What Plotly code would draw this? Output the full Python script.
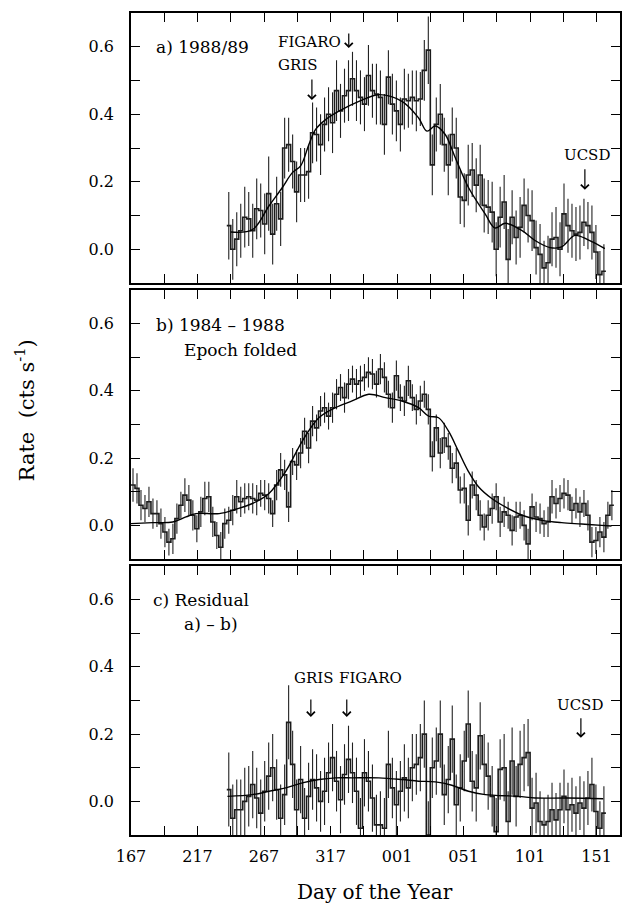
import plotly.graph_objects as go
from plotly.subplots import make_subplots

# ---------------- data ----------------
# bin start days (continuous day count; 367 = day 001 of next year)
day_a = list(range(239, 524, 3))
rate_a = [0.07, 0.00, 0.03, 0.055, 0.095, 0.09, 0.055, 0.12, 0.115, 0.075,
          0.165, 0.045, 0.135, 0.09, 0.30, 0.31, 0.26, 0.17, 0.22, 0.22,
          0.23, 0.345, 0.34, 0.31, 0.37, 0.40, 0.375, 0.47, 0.41, 0.455,
          0.47, 0.505, 0.47, 0.45, 0.43, 0.515, 0.47, 0.46, 0.45, 0.37,
          0.51, 0.43, 0.41, 0.37, 0.445, 0.44, 0.45, 0.44, 0.445, 0.53,
          0.59, 0.25, 0.37, 0.40, 0.31, 0.25, 0.34, 0.30, 0.155, 0.145,
          0.22, 0.235, 0.19, 0.22, 0.13, 0.125, 0.11, 0.00, 0.095, 0.14,
          -0.03, 0.095, 0.035, 0.065, 0.13, 0.10, 0.085, 0.005, -0.015, -0.055,
          -0.04, 0.03, 0.035, 0.00, 0.105, 0.07, 0.055, 0.045, 0.05, 0.08,
          0.07, 0.05, -0.008, -0.075, -0.065]
err_a = [0.10, 0.09, 0.08, 0.08, 0.09, 0.08, 0.08, 0.09, 0.08, 0.09,
         0.11, 0.09, 0.08, 0.08, 0.09, 0.08, 0.08, 0.09, 0.08, 0.08,
         0.08, 0.09, 0.08, 0.09, 0.08, 0.08, 0.09, 0.09, 0.08, 0.08,
         0.09, 0.08, 0.09, 0.08, 0.08, 0.09, 0.08, 0.09, 0.08, 0.09,
         0.08, 0.09, 0.09, 0.08, 0.09, 0.08, 0.08, 0.09, 0.08, 0.09,
         0.10, 0.09, 0.08, 0.09, 0.08, 0.09, 0.08, 0.09, 0.08, 0.08,
         0.09, 0.08, 0.08, 0.09, 0.08, 0.08, 0.09, 0.08, 0.09, 0.08,
         0.09, 0.08, 0.08, 0.09, 0.08, 0.08, 0.09, 0.08, 0.09, 0.08,
         0.08, 0.08, 0.09, 0.08, 0.09, 0.08, 0.08, 0.08, 0.08, 0.07,
         0.07, 0.08, 0.08, 0.07, 0.08]

day_b = list(range(167, 530, 3))
rate_b = [0.12, 0.11, 0.06, 0.05, 0.07, 0.035, 0.035, 0.005, -0.02, -0.05,
          -0.04, 0.02, 0.06, 0.09, 0.075, 0.03, -0.01, 0.04, 0.08, 0.085,
          0.01, -0.03, -0.065, 0.005, 0.015, 0.045, 0.085, 0.07, 0.08, 0.085,
          0.08, 0.075, 0.095, 0.09, 0.08, 0.035, 0.12, 0.165, 0.15, 0.055,
          0.19, 0.18, 0.215, 0.28, 0.23, 0.31, 0.29, 0.34, 0.35, 0.325,
          0.35, 0.39, 0.41, 0.38, 0.42, 0.435, 0.42, 0.43, 0.44, 0.455,
          0.45, 0.42, 0.465, 0.44, 0.39, 0.35, 0.445, 0.38, 0.37, 0.43,
          0.38, 0.345, 0.37, 0.39, 0.345, 0.205, 0.29, 0.215, 0.26, 0.235,
          0.17, 0.185, 0.105, 0.11, 0.015, 0.12, 0.09, 0.03, -0.005, 0.03,
          0.05, 0.085, 0.01, 0.04, 0.03, -0.015, 0.025, 0.03, 0.0, -0.055,
          0.055, 0.025, 0.02, 0.005, 0.01, 0.085, 0.065, 0.08, 0.095, 0.09,
          0.045, 0.065, 0.04, 0.065, 0.03, -0.05, -0.045, -0.02, -0.035, 0.03,
          0.06]
err_b = [0.05, 0.045, 0.045, 0.04, 0.045, 0.045, 0.04, 0.045, 0.045, 0.04,
         0.045, 0.045, 0.04, 0.05, 0.045, 0.045, 0.04, 0.045, 0.05, 0.045,
         0.045, 0.04, 0.045, 0.045, 0.04, 0.045, 0.05, 0.045, 0.045, 0.04,
         0.045, 0.045, 0.04, 0.045, 0.045, 0.04, 0.045, 0.05, 0.045, 0.045,
         0.04, 0.045, 0.045, 0.04, 0.045, 0.045, 0.04, 0.045, 0.045, 0.04,
         0.045, 0.045, 0.04, 0.045, 0.045, 0.04, 0.045, 0.045, 0.04, 0.045,
         0.045, 0.04, 0.045, 0.045, 0.04, 0.045, 0.045, 0.04, 0.045, 0.045,
         0.04, 0.045, 0.045, 0.04, 0.045, 0.045, 0.04, 0.045, 0.045, 0.04,
         0.045, 0.045, 0.04, 0.045, 0.045, 0.04, 0.045, 0.045, 0.04, 0.045,
         0.045, 0.04, 0.045, 0.045, 0.04, 0.045, 0.045, 0.04, 0.045, 0.045,
         0.04, 0.045, 0.045, 0.04, 0.045, 0.05, 0.045, 0.04, 0.045, 0.045,
         0.04, 0.045, 0.045, 0.04, 0.045, 0.045, 0.04, 0.045, 0.045, 0.04,
         0.045]

day_c = list(range(239, 524, 3))
rate_c = [0.035, -0.05, -0.025, -0.025, 0.0, 0.015, 0.05, 0.01, -0.035, 0.03,
          0.075, 0.1, 0.035, -0.05, 0.02, 0.235, 0.11, -0.025, 0.065, -0.05,
          0.015, 0.065, 0.04, 0.0, 0.03, 0.085, 0.13, 0.06, 0.005, 0.08,
          0.125, 0.085, 0.03, -0.08, 0.085, 0.06, 0.01, -0.07, -0.07, -0.08,
          0.11, 0.04, -0.01, 0.03, 0.07, 0.04, 0.1, 0.11, 0.13, 0.2,
          -0.1, 0.1, 0.12, 0.2, 0.02, 0.065, 0.185, -0.01, 0.04, 0.12,
          0.23, 0.06, 0.04, 0.195, 0.11, 0.075, 0.015, -0.09, 0.095, 0.1,
          -0.06, 0.12, 0.015, 0.11, 0.13, 0.145, -0.02, -0.005, -0.06, -0.07,
          -0.06, -0.025, -0.055, -0.025, 0.015, -0.025, -0.01, -0.035, -0.005, -0.02,
          0.01, 0.05, -0.03, -0.08, -0.035]
err_c = [0.11, 0.10, 0.09, 0.09, 0.10, 0.09, 0.10, 0.09, 0.10, 0.09,
         0.10, 0.10, 0.09, 0.10, 0.09, 0.11, 0.10, 0.09, 0.10, 0.09,
         0.10, 0.09, 0.10, 0.09, 0.10, 0.09, 0.10, 0.09, 0.10, 0.09,
         0.10, 0.09, 0.10, 0.09, 0.10, 0.09, 0.10, 0.09, 0.10, 0.09,
         0.10, 0.09, 0.10, 0.09, 0.10, 0.09, 0.10, 0.09, 0.10, 0.10,
         0.10, 0.09, 0.10, 0.10, 0.09, 0.10, 0.10, 0.09, 0.10, 0.09,
         0.10, 0.09, 0.10, 0.10, 0.09, 0.10, 0.09, 0.10, 0.09, 0.10,
         0.09, 0.10, 0.09, 0.10, 0.10, 0.10, 0.09, 0.09, 0.09, 0.08,
         0.08, 0.08, 0.08, 0.08, 0.08, 0.08, 0.08, 0.08, 0.08, 0.08,
         0.08, 0.08, 0.08, 0.08, 0.08]

# smooth model curves
curve_a_day = [242, 258.3, 270.8, 280.8, 288.3, 294.5, 300.8, 305.8, 313.3, 323.3,
               338.3, 353.3, 370.7, 383.2, 389.5, 395.7, 403.2, 410.7, 420.7, 433.2,
               440.7, 448.2, 460.7, 470.7, 482, 490.7, 500.7, 510.7, 523.2]
curve_a_val = [0.051, 0.058, 0.129, 0.183, 0.227, 0.247, 0.311, 0.355, 0.384, 0.409,
               0.438, 0.458, 0.438, 0.389, 0.35, 0.365, 0.34, 0.272, 0.183, 0.105,
               0.063, 0.077, 0.056, 0.026, 0.005, 0.007, 0.041, 0.028, 0.002]
curve_b_day = [167, 183.4, 198.3, 208.3, 215.8, 233.3, 245.8, 258.3, 270.7, 283.2,
               295.7, 308.2, 320.7, 333.2, 345.7, 358.2, 370.7, 383.2, 390.7, 398.2,
               405.7, 413.2, 420.7, 428.2, 438.2, 450.7, 463.2, 475.7, 490.7, 505.7,
               520.7, 528.2]
curve_b_val = [0.005, 0.008, 0.01, 0.025, 0.035, 0.035, 0.048, 0.065, 0.095, 0.16,
               0.25, 0.32, 0.35, 0.37, 0.39, 0.38, 0.37, 0.35, 0.325, 0.32,
               0.28, 0.22, 0.16, 0.115, 0.08, 0.05, 0.027, 0.015, 0.008, 0.004,
               0.0, -0.002]
curve_c_day = [239.5, 258.3, 270.8, 283.3, 295.8, 308.3, 320.8, 333.3, 353.3, 370.7,
               383.2, 395.7, 408.2, 420.7, 433.2, 458.2, 470.7, 495.7, 522]
curve_c_val = [0.015, 0.02, 0.03, 0.04, 0.055, 0.065, 0.07, 0.07, 0.07, 0.065,
               0.06, 0.058, 0.048, 0.03, 0.02, 0.015, 0.01, 0.01, 0.008]

bin_width = 3
tick_days = [167, 217, 267, 317, 367, 417, 467, 517]
tick_text = ["167", "217", "267", "317", "001", "051", "101", "151"]
y_tickvals = [0.0, 0.2, 0.4, 0.6]

# ---------------- figure ----------------
SERIF = "DejaVu Serif"
fig = make_subplots(rows=3, cols=1, shared_xaxes=True)

def add_panel(row, days, rates, errs, cday, cval):
    xs = days + [days[-1] + bin_width]
    ys = rates + [rates[-1]]
    fig.add_trace(go.Scatter(x=xs, y=ys, mode="lines", line_shape="hv",
                             line=dict(color="#1a1a1a", width=1.6),
                             showlegend=False, hoverinfo="skip"), row=row, col=1)
    fig.add_trace(go.Scatter(x=[d + bin_width / 2 for d in days], y=rates, mode="markers",
                             marker=dict(size=1, color="rgba(0,0,0,0)"),
                             error_y=dict(type="data", array=errs, visible=True,
                                          thickness=1.1, width=0, color="#222"),
                             showlegend=False, hoverinfo="skip"), row=row, col=1)
    fig.add_trace(go.Scatter(x=cday, y=cval, mode="lines", line_shape="spline",
                             line=dict(color="black", width=1.4),
                             showlegend=False, hoverinfo="skip"), row=row, col=1)

add_panel(1, day_a, rate_a, err_a, curve_a_day, curve_a_val)
add_panel(2, day_b, rate_b, err_b, curve_b_day, curve_b_val)
add_panel(3, day_c, rate_c, err_c, curve_c_day, curve_c_val)

doms = [[0.6715, 1.0], [0.3358, 0.6630], [0.0, 0.3273]]
for i in range(3):
    r = i + 1
    fig.update_yaxes(row=r, col=1, domain=doms[i], range=[-0.1, 0.7],
                     tickvals=y_tickvals, tickformat=".1f",
                     ticks="inside", ticklen=9, tickwidth=1.2, tickcolor="black",
                     minor=dict(dtick=0.1, tick0=0, ticks="inside", ticklen=9,
                                tickwidth=1.2, tickcolor="black"),
                     showline=True, linecolor="black", linewidth=1.5, mirror="ticks",
                     showgrid=False, zeroline=False, ticklabelstandoff=12,
                     tickfont=dict(family=SERIF, size=16, color="black"))
    fig.update_xaxes(row=r, col=1, range=[167, 534.6],
                     tickvals=tick_days, ticktext=tick_text,
                     showticklabels=(r == 3),
                     ticks="inside", ticklen=9, tickwidth=1.2, tickcolor="black",
                     minor=dict(dtick=25, tick0=167, ticks="inside", ticklen=9,
                                tickwidth=1.2, tickcolor="black"),
                     showline=True, linecolor="black", linewidth=1.5, mirror="ticks",
                     showgrid=False, zeroline=False, ticklabelstandoff=6,
                     tickfont=dict(family=SERIF, size=16, color="black"))

def txt(xref, yref, x, y, text, size=16, xanchor="left"):
    fig.add_annotation(xref=xref, yref=yref, x=x, y=y, text=text, showarrow=False,
                       xanchor=xanchor, yanchor="middle",
                       font=dict(family=SERIF, size=size, color="black"))

def arrow(xref, yref, x, y, length):
    # open (line-drawn) arrowhead pointing down to (x, y)
    fig.add_annotation(xref=xref, yref=yref, x=x, y=y, text="", showarrow=True,
                       ax=0, ay=-length, arrowhead=4, arrowsize=1.3,
                       arrowwidth=1.2, arrowcolor="black")

# panel a
txt("x", "y", 184.6, 0.60, "a) 1988/89", size=17)
txt("x", "y", 276, 0.615, "FIGARO", size=15)
arrow("x", "y", 330.7, 0.596, 16)
txt("x", "y", 276, 0.545, "GRIS", size=15)
arrow("x", "y", 303, 0.442, 22)
txt("x", "y", 509.5, 0.28, "UCSD", size=15, xanchor="center")
arrow("x", "y", 508.2, 0.176, 22)
# panel b
txt("x2", "y2", 184.6, 0.597, "b) 1984 – 1988", size=17)
txt("x2", "y2", 205.6, 0.522, "Epoch folded", size=17)
# panel c
txt("x3", "y3", 182.4, 0.599, "c) Residual", size=17)
txt("x3", "y3", 205.6, 0.526, "a) – b)", size=17)
txt("x3", "y3", 288, 0.368, "GRIS", size=15)
txt("x3", "y3", 321.7, 0.368, "FIGARO", size=15)
arrow("x3", "y3", 302.2, 0.251, 19)
arrow("x3", "y3", 329.2, 0.251, 19)
txt("x3", "y3", 504.5, 0.287, "UCSD", size=15, xanchor="center")
arrow("x3", "y3", 505.2, 0.189, 21)

# axis titles
fig.add_annotation(xref="paper", yref="paper", x=-0.216, y=0.517,
                   text="Rate\u00a0\u00a0(cts s<sup>-1</sup>)", textangle=-90,
                   showarrow=False, xanchor="center", yanchor="middle",
                   font=dict(family=SERIF, size=21, color="black"))
fig.add_annotation(xref="paper", yref="paper", x=0.499, y=-0.069,
                   text="Day of the Year", showarrow=False,
                   xanchor="center", yanchor="middle",
                   font=dict(family=SERIF, size=20, color="black"))

fig.update_layout(width=622, height=903, paper_bgcolor="white", plot_bgcolor="white",
                  margin=dict(l=131, r=0, t=13, b=68), showlegend=False)

fig.write_html("out.html", config={"displayModeBar": False},
               post_script="document.body.style.margin='0';document.body.style.overflow='hidden';")
